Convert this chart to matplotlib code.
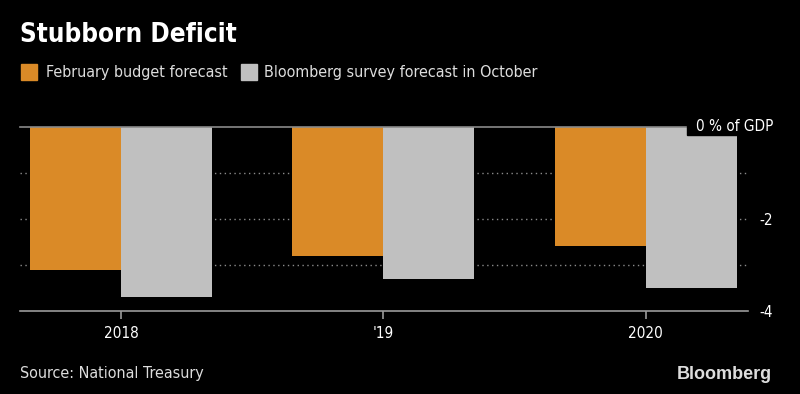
import numpy as np
import matplotlib.pyplot as plt
import matplotlib.transforms as mtransforms

years = ["2018", "'19", "2020"]
feb_budget = [-3.1, -2.8, -2.6]
bloomberg_survey = [-3.7, -3.3, -3.5]
y_ticks = [-4, -2, 0]
y_labels = ["-4", "-2", "0 % of GDP"]

orange = "#DA8A27"
grey = "#C0C0C0"
plt.rcParams["font.family"] = ["DejaVu Sans"]
plt.rcParams["font.stretch"] = "condensed"

fig = plt.figure(figsize=(8, 3.94), dpi=100, facecolor="black")
ax = fig.add_axes([0.025, 0.2107, 0.91, 0.4677], facecolor="black")

x = np.arange(len(years))
w = 0.347
ax.bar(x - w / 2, feb_budget, w, color=orange, zorder=2)
ax.bar(x + w / 2, bloomberg_survey, w, color=grey, zorder=2)

ax.set_xlim(-0.385, 2.39)
ax.set_ylim(-4, 0)

# dotted grid and zero line
for g in [-1, -2, -3]:
    ax.axhline(g, color="#8a8a8a", linestyle=(0, (1, 2.5)), linewidth=1, zorder=1)
ax.axhline(0, color="#8a8a8a", linewidth=1.2, zorder=3, clip_on=False)

for s in ["top", "left", "right"]:
    ax.spines[s].set_visible(False)
ax.spines["bottom"].set_color("#9a9a9a")
ax.spines["bottom"].set_linewidth(1.2)

ax.set_xticks(x)
ax.set_xticklabels(years)
ax.tick_params(axis="x", colors="#9a9a9a", length=6, width=1.2, labelcolor="white",
               labelsize=11, pad=5)

# right-hand labels; the 0 label sits on a black box over the bars
ax.yaxis.tick_right()
ax.set_yticks(y_ticks[:-1])
ax.set_yticklabels(y_labels[:-1])
ax.tick_params(axis="y", length=0, labelcolor="white", labelsize=11, pad=18)
for lab in ax.get_yticklabels():
    lab.set_horizontalalignment("right")
trans = mtransforms.blended_transform_factory(ax.transAxes, ax.transData)
ax.add_patch(plt.Rectangle((0.916, -0.18), 0.2, 0.6, transform=trans, color="black",
                           zorder=5, clip_on=False))
ax.text(1.0343, y_ticks[-1], y_labels[-1], transform=trans, ha="right", va="center",
        color="white", fontsize=11, zorder=6, clip_on=False)

fig.text(0.025, 0.91, "Stubborn Deficit", color="white", fontsize=18.6,
         fontweight="bold", va="center")

# legend
fig.patches.append(plt.Rectangle((0.026, 0.797), 0.02, 0.041, color=orange,
                                 transform=fig.transFigure, figure=fig))
fig.text(0.0575, 0.817, "February budget forecast", color="#dddddd", fontsize=11.5, va="center")
fig.patches.append(plt.Rectangle((0.301, 0.797), 0.02, 0.041, color=grey,
                                 transform=fig.transFigure, figure=fig))
fig.text(0.33, 0.817, "Bloomberg survey forecast in October", color="#dddddd",
         fontsize=11.5, va="center")

fig.text(0.025, 0.053, "Source: National Treasury", color="#dddddd", fontsize=11.5, va="center")
fig.text(0.965, 0.05, "Bloomberg", color="#dddddd", fontsize=13, fontweight="bold",
         va="center", ha="right", family=["Liberation Sans", "DejaVu Sans"])

fig.savefig("out.png", dpi=100, facecolor="black")
